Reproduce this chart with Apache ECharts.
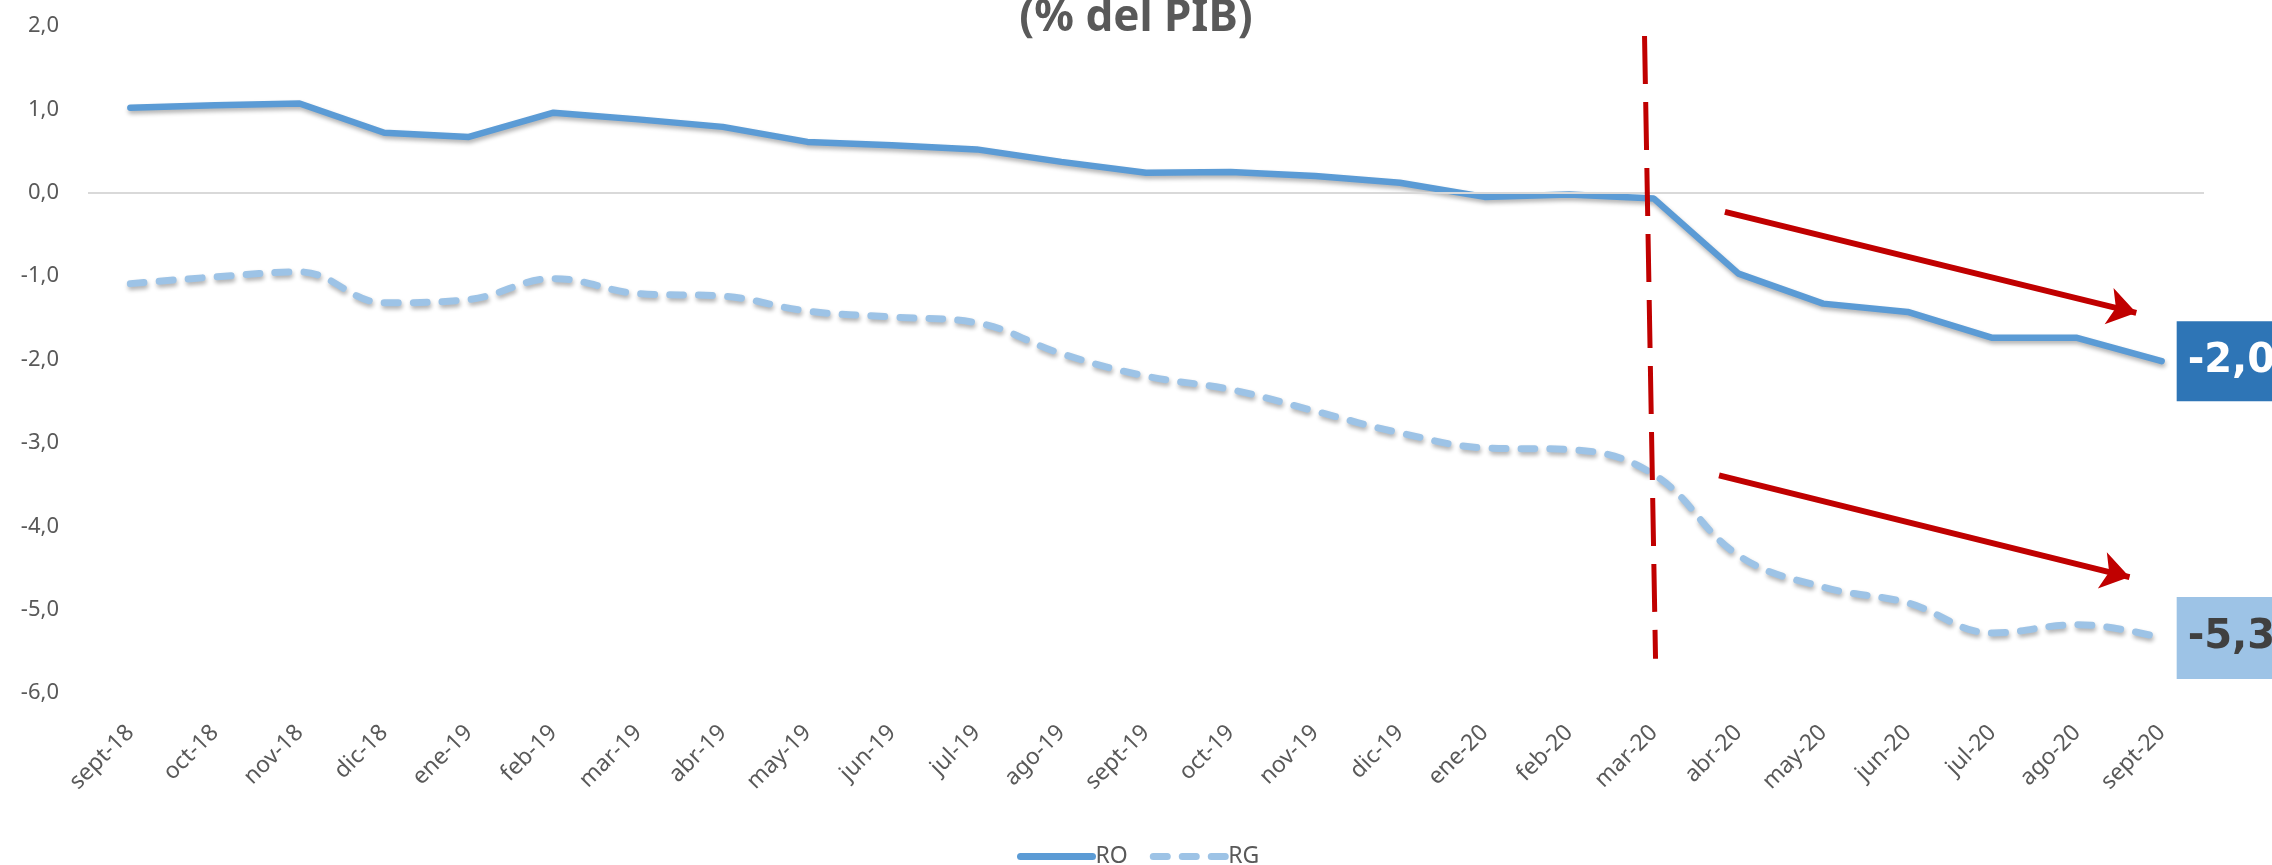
<!DOCTYPE html>
<html>
<head>
<meta charset="utf-8">
<script src="https://cdn.jsdelivr.net/npm/echarts@6/dist/echarts.min.js"></script>
<style>
  html, body { margin: 0; padding: 0; background: #fff; }
  #chart { width: 2272px; height: 865px; }
</style>
</head>
<body>
<div id="chart"></div>
<script>
// meses (sept-18 .. sept-20)
const months = ['sept-18', 'oct-18', 'nov-18', 'dic-18', 'ene-19', 'feb-19', 'mar-19', 'abr-19',
  'may-19', 'jun-19', 'jul-19', 'ago-19', 'sept-19', 'oct-19', 'nov-19', 'dic-19', 'ene-20',
  'feb-20', 'mar-20', 'abr-20', 'may-20', 'jun-20', 'jul-20', 'ago-20', 'sept-20'];

// resultado operativo
const ro = [1.02, 1.05, 1.07, 0.72, 0.67, 0.96, 0.88, 0.79, 0.61, 0.57, 0.52, 0.37, 0.24,
  0.25, 0.20, 0.12, -0.05, -0.02, -0.07, -0.97, -1.33, -1.43, -1.74, -1.74, -2.02];

// resultado global
const rg = [-1.09, -1.01, -0.95, -1.32, -1.28, -1.03, -1.21, -1.24, -1.42, -1.49, -1.56, -1.93,
  -2.20, -2.36, -2.62, -2.88, -3.06, -3.08, -3.38, -4.35, -4.73, -4.92, -5.28, -5.18, -5.34];

const yTicks = { min: -6, max: 2, step: 1 };

// anotaciones (indice de mes, valor)
const covidLine = [[17.89, 1.88], [18.02, -5.59]];
const arrowRO = [[18.84, -0.23], [23.7, -1.44]];
const arrowRG = [[18.77, -3.39], [23.62, -4.61]];

const fmt = v => v.toFixed(1).replace('.', ',');
const font = 'Noto Sans';
const shadow = { shadowColor: 'rgba(0,0,0,0.3)', shadowBlur: 4, shadowOffsetX: 1, shadowOffsetY: 3 };

let chart = echarts.init(document.getElementById('chart'), null, { renderer: 'canvas' });
let option = {
  animation: false,
  textStyle: { fontFamily: font },
  title: {
    text: '(% del PIB)',
    left: 'center',
    top: -9,
    textStyle: { fontSize: 44, fontWeight: 'bold', color: '#595959', fontFamily: font }
  },
  legend: {
    left: 1012,
    top: 840,
    itemWidth: 72,
    itemHeight: 18,
    itemGap: 22,
    itemStyle: { opacity: 0 },
    lineStyle: { width: 7, cap: 'round', shadowBlur: 0, shadowOffsetX: 0, shadowOffsetY: 0 },
    textStyle: { fontSize: 23, color: '#595959', padding: [0, 0, 0, -2] },
    data: ['RO', 'RG']
  },
  grid: { left: 88, right: 68, top: 26, bottom: 172 },
  xAxis: [
    {
      type: 'category',
      data: months,
      axisLine: { show: false },
      axisTick: { show: false },
      axisLabel: { interval: 0, rotate: 45, margin: 36, fontSize: 23, color: '#595959' }
    },
    // eje auxiliar para las anotaciones
    { type: 'value', min: -0.5, max: months.length - 0.5, show: false }
  ],
  yAxis: {
    type: 'value',
    min: yTicks.min,
    max: yTicks.max,
    interval: yTicks.step,
    splitLine: { show: false },
    axisLine: { show: false },
    axisTick: { show: false },
    axisLabel: { fontSize: 22, color: '#595959', margin: 29, formatter: fmt }
  },
  series: [
    {
      name: 'RO',
      type: 'line',
      data: ro,
      symbol: 'none',
      color: '#5B9BD5',
      lineStyle: Object.assign({ width: 6.5, color: '#5B9BD5', cap: 'round' }, shadow),
      z: 4,
      endLabel: {
        show: true,
        formatter: p => fmt(p.value),
        distance: 15,
        color: '#fff',
        fontFamily: 'DejaVu Sans',
        fontWeight: 'bold',
        fontSize: 40,
        lineHeight: 40,
        backgroundColor: '#2E75B6',
        padding: [20, 16, 20, 11]
      },
      markLine: {
        silent: true,
        symbol: 'none',
        label: { show: false },
        lineStyle: { color: '#D9D9D9', width: 2, type: 'solid' },
        data: [{ yAxis: 0 }]
      }
    },
    {
      name: 'RG',
      type: 'line',
      data: rg,
      smooth: 0.4,
      symbol: 'none',
      color: '#9DC3E6',
      lineStyle: Object.assign({ width: 7, color: '#9DC3E6', type: [14, 15], cap: 'round' }, shadow),
      z: 3,
      endLabel: {
        show: true,
        formatter: p => fmt(p.value),
        distance: 15,
        color: '#404040',
        fontFamily: 'DejaVu Sans',
        fontWeight: 'bold',
        fontSize: 40,
        lineHeight: 40,
        backgroundColor: '#9DC3E6',
        padding: [21, 16, 21, 11]
      }
    },
    {
      type: 'lines',
      coordinateSystem: 'cartesian2d',
      xAxisIndex: 1,
      silent: true,
      z: 5,
      symbol: ['none', 'none'],
      lineStyle: { color: '#C00000', width: 5, type: [48, 18], opacity: 1 },
      data: [{ coords: covidLine }]
    },
    {
      type: 'lines',
      coordinateSystem: 'cartesian2d',
      xAxisIndex: 1,
      silent: true,
      z: 5,
      symbol: ['none', 'arrow'],
      symbolSize: 28,
      lineStyle: { color: '#C00000', width: 6, type: 'solid', opacity: 1 },
      data: [{ coords: arrowRO }, { coords: arrowRG }]
    }
  ]
};
option && chart.setOption(option);
</script>
</body>
</html>
